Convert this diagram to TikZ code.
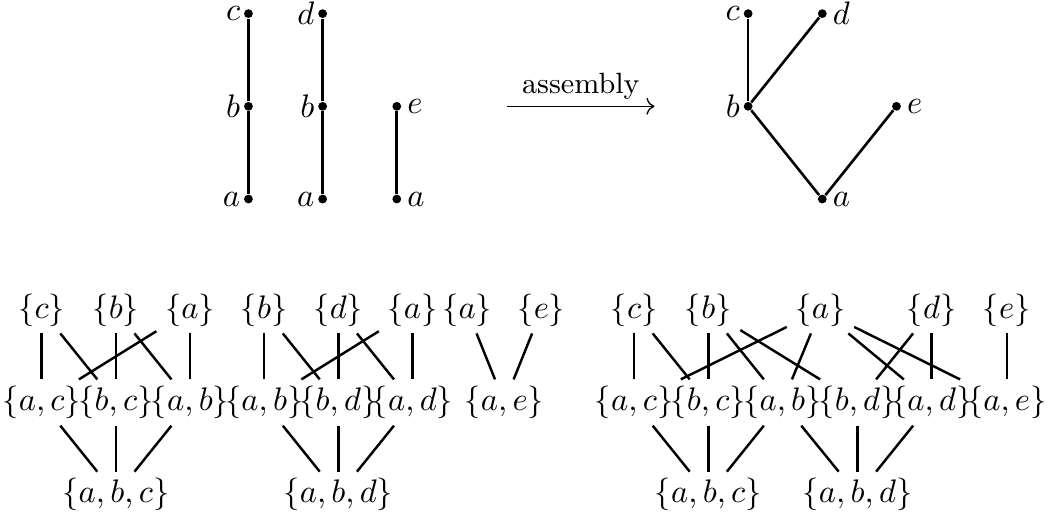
\documentclass[tikz,border=0pt]{standalone}
\usepackage{amsmath,amssymb}
\usepackage{tikz}
\usetikzlibrary{arrows.meta}

\begin{document}
\begin{tikzpicture}[
    vtx/.style={circle, fill=black, inner sep=0pt, minimum size=2.7pt},
    llab/.style={label={[inner xsep=0.8pt]left:$#1$}},
    rlab/.style={label={[inner xsep=1.5pt]right:$#1$}},
    tree/.style={line width=0.8pt},
    setnode/.style={inner xsep=2.5pt, inner ysep=1.9pt},
    cover/.style={line width=0.75pt},
    every label/.style={inner ysep=0pt},
]
\useasboundingbox (0,0) rectangle (11.294,5.577);

% Chains before assembly
\node[vtx, llab=c] (c1) at (2.68, 5.43) {};
\node[vtx, llab=b] (b1) at (2.68, 4.43) {};
\node[vtx, llab=a] (a1) at (2.68, 3.43) {};
\node[vtx, llab=d] (d2) at (3.48, 5.43) {};
\node[vtx, llab=b] (b2) at (3.48, 4.43) {};
\node[vtx, llab=a] (a2) at (3.48, 3.43) {};
\node[vtx, rlab=e] (e3) at (4.28, 4.43) {};
\node[vtx, rlab=a] (a3) at (4.28, 3.43) {};

\draw[tree] (a1) -- (b1);
\draw[tree] (b1) -- (c1);
\draw[tree] (a2) -- (b2);
\draw[tree] (b2) -- (d2);
\draw[tree] (a3) -- (e3);

% Assembly arrow
\coordinate (asmL) at (5.47, 4.43);
\coordinate (asmR) at (7.06, 4.43);
\draw[->] (asmL) -- node[above, inner sep=2pt, font=\small] {assembly} (asmR);

% Assembled tree
\node[vtx, llab=c] (tc) at (8.07, 5.43) {};
\node[vtx, rlab=d] (td) at (8.87, 5.43) {};
\node[vtx, llab=b] (tb) at (8.07, 4.43) {};
\node[vtx, rlab=e] (te) at (9.67, 4.43) {};
\node[vtx, rlab=a] (ta) at (8.87, 3.43) {};

\draw[tree] (tc) -- (tb);
\draw[tree] (td) -- (tb);
\draw[tree] (tb) -- (ta);
\draw[tree] (te) -- (ta);

% Poset of chain a-b-c
\node[setnode] (p1c) at (0.45, 2.23) {$\{c\}$};
\node[setnode] (p1b) at (1.25, 2.23) {$\{b\}$};
\node[setnode] (p1a) at (2.05, 2.23) {$\{a\}$};
\node[setnode] (p1ac) at (0.45, 1.235) {$\{a,c\}$};
\node[setnode] (p1bc) at (1.25, 1.235) {$\{b,c\}$};
\node[setnode] (p1ab) at (2.05, 1.235) {$\{a,b\}$};
\node[setnode] (p1abc) at (1.25, 0.24) {$\{a,b,c\}$};

\draw[cover] (p1c) -- (p1ac);
\draw[cover] (p1c) -- (p1bc);
\draw[cover] (p1a) -- (p1ac);
\draw[cover] (p1b) -- (p1bc);
\draw[cover] (p1b) -- (p1ab);
\draw[cover] (p1a) -- (p1ab);
\draw[cover] (p1ac) -- (p1abc);
\draw[cover] (p1bc) -- (p1abc);
\draw[cover] (p1ab) -- (p1abc);

% Poset of chain a-b-d
\node[setnode] (p2b) at (2.85, 2.23) {$\{b\}$};
\node[setnode] (p2d) at (3.65, 2.23) {$\{d\}$};
\node[setnode] (p2a) at (4.45, 2.23) {$\{a\}$};
\node[setnode] (p2ab) at (2.85, 1.235) {$\{a,b\}$};
\node[setnode] (p2bd) at (3.65, 1.235) {$\{b,d\}$};
\node[setnode] (p2ad) at (4.45, 1.235) {$\{a,d\}$};
\node[setnode] (p2abd) at (3.65, 0.24) {$\{a,b,d\}$};

\draw[cover] (p2b) -- (p2ab);
\draw[cover] (p2b) -- (p2bd);
\draw[cover] (p2a) -- (p2ab);
\draw[cover] (p2d) -- (p2bd);
\draw[cover] (p2d) -- (p2ad);
\draw[cover] (p2a) -- (p2ad);
\draw[cover] (p2ab) -- (p2abd);
\draw[cover] (p2bd) -- (p2abd);
\draw[cover] (p2ad) -- (p2abd);

% Poset of chain a-e
\node[setnode] (p3a) at (5.04, 2.23) {$\{a\}$};
\node[setnode] (p3e) at (5.84, 2.23) {$\{e\}$};
\node[setnode] (p3ae) at (5.44, 1.235) {$\{a,e\}$};

\draw[cover] (p3a) -- (p3ae);
\draw[cover] (p3e) -- (p3ae);

% Poset of the assembled tree
\node[setnode] (qc) at (6.84, 2.23) {$\{c\}$};
\node[setnode] (qb) at (7.64, 2.23) {$\{b\}$};
\node[setnode] (qa) at (8.85, 2.23) {$\{a\}$};
\node[setnode] (qd) at (10.05, 2.23) {$\{d\}$};
\node[setnode] (qe) at (10.86, 2.23) {$\{e\}$};
\node[setnode] (qac) at (6.84, 1.235) {$\{a,c\}$};
\node[setnode] (qbc) at (7.64, 1.235) {$\{b,c\}$};
\node[setnode] (qab) at (8.44, 1.235) {$\{a,b\}$};
\node[setnode] (qbd) at (9.25, 1.235) {$\{b,d\}$};
\node[setnode] (qad) at (10.05, 1.235) {$\{a,d\}$};
\node[setnode] (qae) at (10.86, 1.235) {$\{a,e\}$};
\node[setnode] (qabc) at (7.64, 0.24) {$\{a,b,c\}$};
\node[setnode] (qabd) at (9.25, 0.24) {$\{a,b,d\}$};

\draw[cover] (qc) -- (qac);
\draw[cover] (qc) -- (qbc);
\draw[cover] (qa) -- (qac);
\draw[cover] (qb) -- (qbc);
\draw[cover] (qb) -- (qab);
\draw[cover] (qb) -- (qbd);
\draw[cover] (qa) -- (qab);
\draw[cover] (qa) -- (qad);
\draw[cover] (qa) -- (qae);
\draw[cover] (qd) -- (qbd);
\draw[cover] (qd) -- (qad);
\draw[cover] (qe) -- (qae);
\draw[cover] (qac) -- (qabc);
\draw[cover] (qbc) -- (qabc);
\draw[cover] (qab) -- (qabc);
\draw[cover] (qab) -- (qabd);
\draw[cover] (qbd) -- (qabd);
\draw[cover] (qad) -- (qabd);

\end{tikzpicture}
\end{document}
